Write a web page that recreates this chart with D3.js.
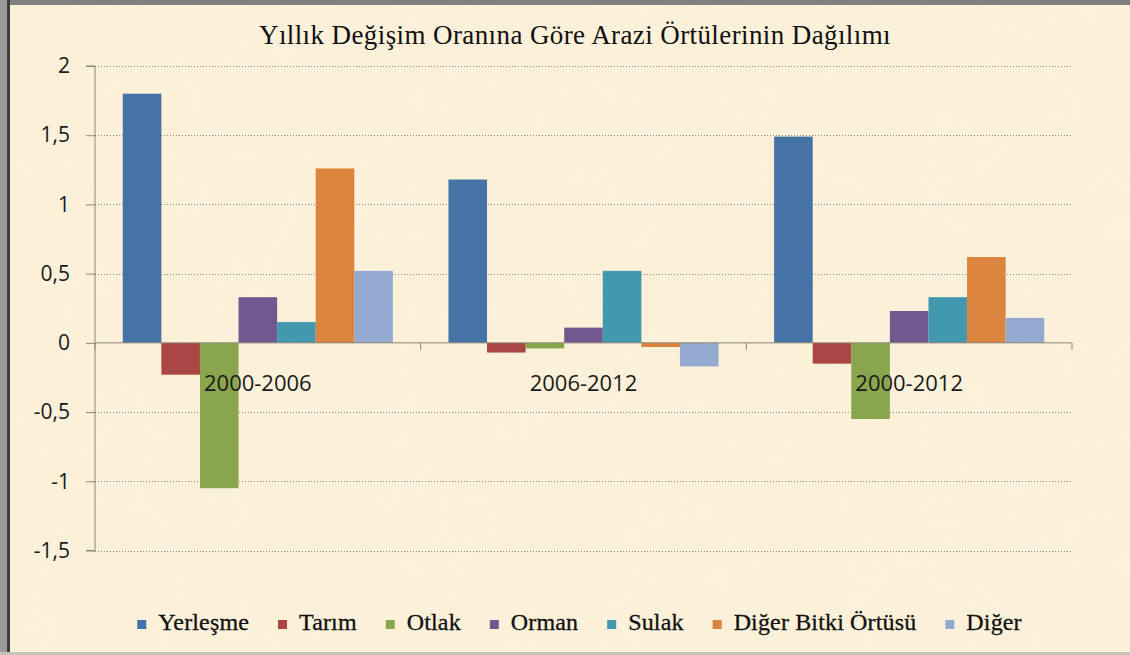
<!DOCTYPE html>
<html>
<head>
<meta charset="utf-8">
<script src="https://cdn.jsdelivr.net/npm/d3@7"></script>
<style>
  body { margin: 0; background: #faf0da; }
  svg { display: block; }
</style>
</head>
<body>
<div id="chart"></div>
<script>
// chart data
var groups = ["2000-2006", "2006-2012", "2000-2012"];
var seriesNames = ["Yerleşme", "Tarım", "Otlak", "Orman", "Sulak", "Diğer Bitki Örtüsü", "Diğer"];
var yerlesme = [1.8, 1.18, 1.49];
var tarim = [-0.23, -0.07, -0.15];
var otlak = [-1.05, -0.04, -0.55];
var orman = [0.33, 0.11, 0.23];
var sulak = [0.15, 0.52, 0.33];
var digerBitki = [1.26, -0.03, 0.62];
var diger = [0.52, -0.17, 0.18];
var yTicks = [-1.5, -1, -0.5, 0, 0.5, 1, 1.5, 2];
var colors = ["#4572a7", "#aa4643", "#89a54e", "#71588f", "#4198af", "#db843d", "#93a9cf"];

var seriesValues = [yerlesme, tarim, otlak, orman, sulak, digerBitki, diger];

var svgWidth = 1130, svgHeight = 655;
var margin = { top: 66, right: 58, bottom: 104.5, left: 95 };
var width = svgWidth - margin.left - margin.right;
var height = svgHeight - margin.top - margin.bottom;

var svg = d3.select("#chart").append("svg")
  .attr("width", svgWidth)
  .attr("height", svgHeight);

// parchment background
var defs = svg.append("defs");
var filt = defs.append("filter").attr("id", "paper");
filt.append("feTurbulence")
  .attr("type", "fractalNoise")
  .attr("baseFrequency", "0.012")
  .attr("numOctaves", 3)
  .attr("seed", 4);
filt.append("feColorMatrix")
  .attr("values", "0 0 0 0 0.96  0 0 0 0 0.88  0 0 0 0 0.74  0 0 0 0.35 0");

svg.append("rect").attr("width", svgWidth).attr("height", svgHeight).attr("fill", "#fbf0d8");
svg.append("rect").attr("width", svgWidth).attr("height", svgHeight).attr("filter", "url(#paper)").attr("opacity", 0.5);

// frame
svg.append("rect").attr("x", 0).attr("y", 0).attr("width", svgWidth).attr("height", 5).attr("fill", "#7f7f7f");
svg.append("rect").attr("x", 0).attr("y", 0).attr("width", 10).attr("height", svgHeight).attr("fill", "#9a9a9a");
svg.append("rect").attr("x", 7).attr("y", 0).attr("width", 3).attr("height", svgHeight).attr("fill", "#3c3c3c");
svg.append("rect").attr("x", 0).attr("y", svgHeight - 3).attr("width", svgWidth).attr("height", 3).attr("fill", "#c8c3b8");

// title
svg.append("text")
  .attr("x", 575)
  .attr("y", 44)
  .attr("text-anchor", "middle")
  .attr("font-family", "Liberation Serif, Times New Roman, serif")
  .attr("font-size", "27px")
  .attr("letter-spacing", "0.4px")
  .attr("fill", "#111")
  .text("Yıllık Değişim Oranına Göre Arazi Örtülerinin Dağılımı");

var chartGroup = svg.append("g")
  .attr("transform", `translate(${margin.left}, ${margin.top})`);

// scales
var x0 = d3.scaleBand().domain(groups).range([0, width]).padding(0);
var x1 = d3.scaleBand().domain(seriesNames).range([0, x0.bandwidth()])
  .paddingInner(0).paddingOuter(0.72);
var y = d3.scaleLinear().domain([-1.5, 2]).range([height, 0]);

// gridlines
chartGroup.append("g")
  .selectAll("line")
  .data(yTicks.filter(d => d !== 0))
  .enter()
  .append("line")
  .attr("x1", 0)
  .attr("x2", width)
  .attr("y1", d => Math.round(y(d)) + 0.5)
  .attr("y2", d => Math.round(y(d)) + 0.5)
  .attr("stroke", "#8f8a80")
  .attr("stroke-width", 1)
  .attr("stroke-dasharray", "1,2");

// y axis
var yAxis = d3.axisLeft(y)
  .tickValues(yTicks)
  .tickSize(9)
  .tickPadding(16)
  .tickFormat(d => String(d).replace(".", ","));

var yAxisG = chartGroup.append("g").call(yAxis);
yAxisG.select(".domain").attr("stroke", "#8c8478").attr("d", `M-9,${y(2)}H0V${y(-1.5)}H-9`);
yAxisG.selectAll(".tick line").attr("stroke", "#8c8478");
yAxisG.selectAll("text")
  .attr("font-family", "Open Sans, sans-serif")
  .attr("font-size", "21px")
  .attr("fill", "#1a1a1a");

// bars
var groupG = chartGroup.selectAll(".grp")
  .data(groups)
  .enter()
  .append("g")
  .attr("class", "grp")
  .attr("transform", d => `translate(${x0(d)}, 0)`);

groupG.selectAll("rect")
  .data((g, gi) => seriesNames.map((s, si) => ({ series: s, value: seriesValues[si][gi], color: colors[si] })))
  .enter()
  .append("rect")
  .attr("x", d => x1(d.series))
  .attr("width", x1.bandwidth())
  .attr("y", d => y(Math.max(0, d.value)))
  .attr("height", d => Math.abs(y(d.value) - y(0)))
  .attr("fill", d => d.color);

// x axis at zero
var xAxisG = chartGroup.append("g");
xAxisG.append("line")
  .attr("x1", 0).attr("x2", width)
  .attr("y1", y(0)).attr("y2", y(0))
  .attr("stroke", "#8c8478");
xAxisG.selectAll(".xt")
  .data(groups.map(g => x0(g)).concat([width]))
  .enter()
  .append("line")
  .attr("x1", d => d).attr("x2", d => d)
  .attr("y1", y(0)).attr("y2", y(0) + 7)
  .attr("stroke", "#8c8478");

xAxisG.selectAll("text")
  .data(groups)
  .enter()
  .append("text")
  .attr("x", d => x0(d) + x0.bandwidth() / 2)
  .attr("y", y(0) + 48)
  .attr("text-anchor", "middle")
  .attr("font-family", "Open Sans, sans-serif")
  .attr("font-size", "22px")
  .attr("fill", "#1a1a1a")
  .text(d => d);

// legend
var legend = svg.append("g");
var items = legend.selectAll("g")
  .data(seriesNames)
  .enter()
  .append("g");

items.append("rect")
  .attr("y", 620)
  .attr("width", 9)
  .attr("height", 9)
  .attr("fill", (d, i) => colors[i]);

items.append("text")
  .attr("x", 21)
  .attr("y", 630)
  .attr("font-family", "Liberation Serif, Times New Roman, serif")
  .attr("font-size", "24px")
  .attr("letter-spacing", "0.15px")
  .attr("stroke", "#111")
  .attr("stroke-width", 0.3)
  .attr("fill", "#111")
  .text(d => d);

var xPos = 0;
items.each(function() {
  var w = d3.select(this).select("text").node().getComputedTextLength();
  d3.select(this).attr("transform", `translate(${xPos}, 0)`);
  xPos += 21 + w + 29;
});
var legendWidth = xPos - 29;
legend.attr("transform", `translate(${579.5 - legendWidth / 2}, 0)`);
</script>
</body>
</html>
